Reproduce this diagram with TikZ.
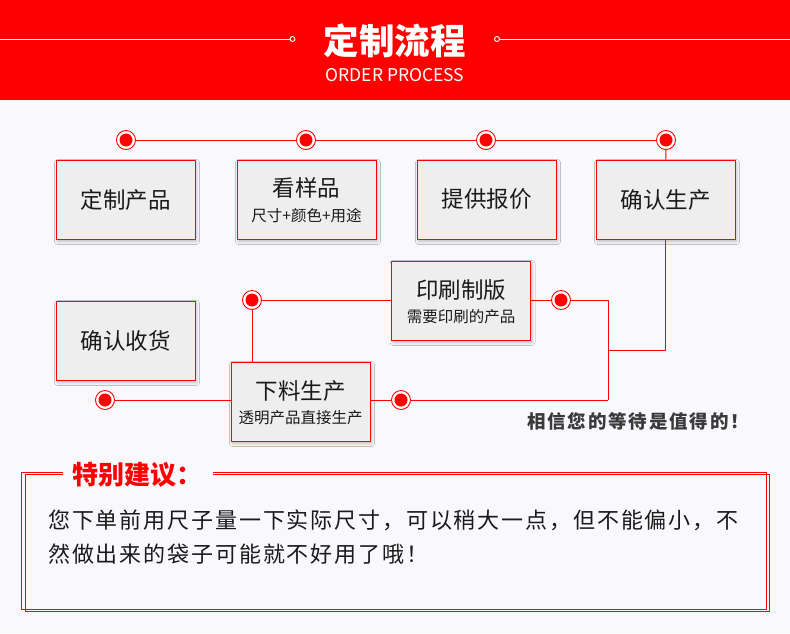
\documentclass[tikz,border=0pt]{standalone}
\usepackage{fontspec}
\setmainfont{Noto Sans CJK SC}
\newfontfamily\cjk{Noto Sans CJK SC}
\newfontfamily\cjkbody[LetterSpace=8.5]{Noto Sans CJK SC}
\newfontfamily\cjkmotto[LetterSpace=10]{Noto Sans CJK SC}
\usetikzlibrary{shadows.blur}
\definecolor{hred}{RGB}{255,0,0}
\definecolor{bgc}{RGB}{249,249,253}
\definecolor{boxgray}{RGB}{239,238,238}
\definecolor{txt}{RGB}{26,26,26}
\definecolor{motto}{RGB}{58,58,58}
\tikzset{
  stepbox/.style={draw=hred, line width=1pt, fill=boxgray, minimum width=139pt,
    minimum height=79pt, inner sep=0pt, text=txt,
    font=\cjk\fontsize{22.5}{24}\selectfont,
    blur shadow={shadow xshift=1.5pt, shadow yshift=-2.5pt, shadow blur radius=3pt, shadow opacity=25}},
  maintxt/.style={inner sep=0pt, text=txt, font=\cjk\fontsize{22.5}{24}\selectfont},
  subtxt/.style={inner sep=0pt, text=txt, font=\cjk\fontsize{15.5}{17}\selectfont},
  dot/.style={circle, draw=hred, fill=white, line width=0.9pt, minimum size=19pt, inner sep=0pt,
    path picture={\fill[hred] (path picture bounding box.center) circle (6.5pt);}},
  hdot/.style={circle, draw=white, fill=hred, line width=0.9pt, minimum size=5pt, inner sep=0pt},
  conn/.style={draw=hred, line width=1pt},
  hline/.style={draw=white, line width=1pt},
  frame/.style={draw=hred, line width=0.8pt}
}
\begin{document}
\begin{tikzpicture}[x=1pt,y=-1pt]
\useasboundingbox (0,0) rectangle (790,633);
\fill[bgc] (0,0) rectangle (790,633);
% header
\fill[hred] (0,0) rectangle (790,100);
\node[inner sep=0pt, text=white, font=\cjk\bfseries\fontsize{35.5}{36}\selectfont] (title) at (394.5,41) {定制流程};
\node[inner sep=0pt, text=white, font=\cjk\fontsize{17.5}{20}\selectfont] (subtitle) at (395,75) {ORDER PROCESS};
\node[hdot] (hc1) at (292.5,39) {};
\node[hdot] (hc2) at (497,39) {};
\coordinate (hl) at (0,39);
\coordinate (hr) at (790,39);
\draw[hline] (hl) -- (hc1);
\draw[hline] (hc2) -- (hr);

% boxes
\node[stepbox] (b1) at (125.5,199.5) {定制产品};
\node[stepbox] (b2) at (306.5,199.5) {};
\node[stepbox] (b3) at (486.5,199.5) {提供报价};
\node[stepbox] (b4) at (665.5,199.5) {确认生产};
\node[stepbox] (b5) at (461,300.5) {};
\node[stepbox] (b6) at (125.5,340.5) {确认收货};
\node[stepbox] (b7) at (300.5,401.5) {};
\node[maintxt] (t2) at (306.5,187.5) {看样品};
\node[subtxt] (s2) at (306.5,216) {尺寸+颜色+用途};
\node[maintxt] (t5) at (461,290) {印刷制版};
\node[subtxt] (s5) at (461,317) {需要印刷的产品};
\node[maintxt] (t7) at (300.5,391) {下料生产};
\node[subtxt] (s7) at (300.5,418) {透明产品直接生产};

% dots
\node[dot] (c1) at (126,140) {};
\node[dot] (c2) at (306,140) {};
\node[dot] (c3) at (486,140) {};
\node[dot] (c4) at (666,140) {};
\node[dot] (c5) at (252,300) {};
\node[dot] (c6) at (561,300) {};
\node[dot] (c7) at (401,400) {};
\node[dot] (c8) at (105,400) {};
\coordinate (ja) at (608,300);
\coordinate (jm) at (608,350);
\coordinate (jb) at (608,400);

% connectors
\draw[conn] (c1) -- (c2);
\draw[conn] (c2) -- (c3);
\draw[conn] (c3) -- (c4);
\draw[conn] (c4) -- (b4);
\draw[conn] (b4.south) |- (jm);
\draw[conn] (ja) -- (jb);
\draw[conn] (c6) -- (ja);
\draw[conn] (b5.east |- c6) -- (c6);
\draw[conn] (c5) -- (b5.west |- c5);
\draw[conn] (c5) -- (c5 |- b7.north);
\draw[conn] (c8) -- (b7.west |- c8);
\draw[conn] (b7.east |- c7) -- (c7);
\draw[conn] (c7) -- (jb);

% motto
\node[inner sep=0pt, anchor=west, text=motto, font=\cjkmotto\bfseries\fontsize{18.5}{20}\selectfont] (mt) at (527,421) {相信您的等待是值得的！};

% advice frame
\draw[frame] (63,472) -- (21,472) -- (21,609) -- (766,609) -- (766,472) -- (213,472);
\draw[frame] (63,474) -- (25,474) -- (25,611) -- (769,611) -- (769,474) -- (213,474);
\node[inner sep=0pt, anchor=west, text=hred, font=\cjk\bfseries\fontsize{26}{28}\selectfont] (adv) at (72,475) {特别建议：};
\node[inner sep=0pt, anchor=west, text=txt, font=\cjkbody\fontsize{22}{24}\selectfont] (l1) at (48,520) {您下单前用尺子量一下实际尺寸，可以稍大一点，但不能偏小，不};
\node[inner sep=0pt, anchor=west, text=txt, font=\cjkbody\fontsize{22}{24}\selectfont] (l2) at (48,554) {然做出来的袋子可能就不好用了哦！};
\end{tikzpicture}
\end{document}
